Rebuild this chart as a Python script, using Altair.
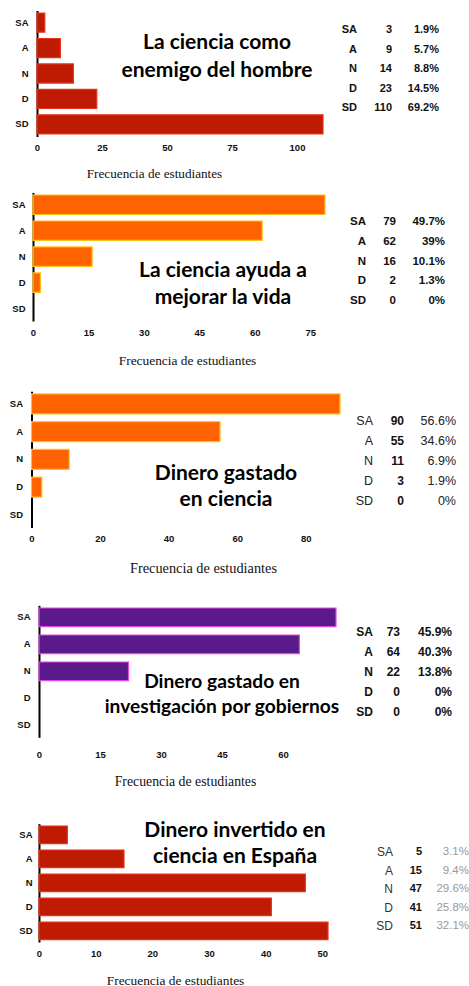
import altair as alt
import pandas as pd

# ---------------- data ----------------
cats = ["SA", "A", "N", "D", "SD"]

counts_1 = [3, 9, 14, 23, 110]
pct_1 = [1.9, 5.7, 8.8, 14.5, 69.2]
counts_2 = [79, 62, 16, 2, 0]
pct_2 = [49.7, 39, 10.1, 1.3, 0]
counts_3 = [90, 55, 11, 3, 0]
pct_3 = [56.6, 34.6, 6.9, 1.9, 0]
counts_4 = [73, 64, 22, 0, 0]
pct_4 = [45.9, 40.3, 13.8, 0, 0]
counts_5 = [5, 15, 47, 41, 51]
pct_5 = [3.1, 9.4, 29.6, 25.8, 32.1]

titles = [
    ["La ciencia como", "enemigo del hombre"],
    ["La ciencia ayuda a", "mejorar la vida"],
    ["Dinero gastado", "en ciencia"],
    ["Dinero gastado en", "investigación por gobiernos"],
    ["Dinero invertido en", "ciencia en España"],
]
tick_values = [
    [0, 25, 50, 75, 100],
    [0, 15, 30, 45, 60, 75],
    [0, 20, 40, 60, 80],
    [0, 15, 30, 45, 60],
    [0, 10, 20, 30, 40, 50],
]
x_title = "Frecuencia de estudiantes"

all_counts = [counts_1, counts_2, counts_3, counts_4, counts_5]
all_pcts = [pct_1, pct_2, pct_3, pct_4, pct_5]

# ---------------- layout / style ----------------
W, H = 469, 986
RED, RED_S = "#bf1a02", "#e8321a"
ORA, ORA_S = "#ff6200", "#ffc21a"
PUR, PUR_S = "#5a1a8a", "#e048e8"

styles = [
    dict(dmax=110, xr=(37, 323), yr=(10.5, 136.5), pi=0.25, fill=RED, stroke=RED_S,
         ylp=9, xlp=6, tx=154, ty=36.5, tfs=13.2,
         title_c=(217, 43, 71), title_fs=21,
         tab_x=(357, 392, 439), tab_y=(30, 108),
         tab=dict(lab=("bold", 11, "#111"), val=("bold", 11, "#111"), pct=("bold", 11, "#111"))),
    dict(dmax=79, xr=(33, 325), yr=(192.4, 321), pi=0.25, fill=ORA, stroke=ORA_S,
         ylp=8, xlp=6.5, tx=187, ty=39, tfs=13.4,
         title_c=(223, 271, 298), title_fs=21,
         tab_x=(366, 396, 445), tab_y=(222, 301),
         tab=dict(lab=("bold", 11.5, "#111"), val=("bold", 11.5, "#111"), pct=("bold", 11.5, "#111"))),
    dict(dmax=90, xr=(31.5, 340), yr=(391.2, 527.5), pi=0.28, fill=ORA, stroke=ORA_S,
         ylp=9, xlp=6, tx=203, ty=40.5, tfs=14.3,
         title_c=(226, 474, 500), title_fs=21,
         tab_x=(373, 404, 456), tab_y=(421, 501),
         tab=dict(lab=("normal", 12.5, "#222"), val=("bold", 12, "#111"), pct=("normal", 12.5, "#222"))),
    dict(dmax=73, xr=(39, 336), yr=(605.3, 737.3), pi=0.31, fill=PUR, stroke=PUR_S,
         ylp=9, xlp=12, tx=185, ty=44, tfs=13.8,
         title_c=(222, 682, 707), title_fs=19.2,
         tab_x=(373, 400, 452), tab_y=(632, 712),
         tab=dict(lab=("bold", 12, "#111"), val=("bold", 12, "#111"), pct=("bold", 12, "#111"))),
    dict(dmax=51, xr=(39, 328), yr=(823.6, 942), pi=0.27, fill=RED, stroke=RED_S,
         ylp=7, xlp=6.5, tx=175, ty=38, tfs=13.4,
         title_c=(235, 831, 857), title_fs=21,
         tab_x=(393, 422, 469), tab_y=(852, 926),
         tab=dict(lab=("normal", 12, "#333"), val=("bold", 11, "#111"), pct=("normal", 11.5, "#999"))),
]


def fmt_pct(p):
    return f"{p:g}%"


layers = []
for i in range(5):
    st = styles[i]
    df = pd.DataFrame({
        "cat": cats,
        "n": all_counts[i],
        "pct": [fmt_pct(p) for p in all_pcts[i]],
    })
    x0, x1 = st["xr"]
    y0, y1 = st["yr"]

    bars = alt.Chart(df).transform_filter("datum.n > 0").mark_bar(
        fill=st["fill"], stroke=st["stroke"], strokeWidth=1.2
    ).encode(
        x=alt.X("n:Q",
                scale=alt.Scale(domain=[0, st["dmax"]], range=[x0, x1], nice=False, zero=True),
                axis=alt.Axis(orient="bottom", offset=y1 - H, values=tick_values[i],
                              domain=False, ticks=False, grid=False, labelFlush=False,
                              labelFont="Liberation Sans", labelFontWeight="bold",
                              labelFontSize=9.5, labelColor="#111", labelPadding=st["xlp"],
                              title=x_title, titleFont="Liberation Serif",
                              titleFontWeight="normal", titleFontSize=st["tfs"],
                              titleColor="#111", titleX=st["tx"], titleY=st["ty"],
                              titleAlign="center", titleBaseline="middle")),
        y=alt.Y("cat:N", sort=cats,
                scale=alt.Scale(domain=cats, range=[y0, y1], paddingInner=st["pi"],
                                paddingOuter=0.1),
                axis=alt.Axis(orient="left", offset=-x0, title=None, ticks=False,
                              domainColor="#000", domainWidth=2, grid=False,
                              labelFont="Liberation Sans", labelFontWeight="bold",
                              labelFontSize=9.5, labelColor="#111", labelPadding=st["ylp"])),
    )
    layers.append(bars)

    # title (two lines)
    cx, ly0, ly1 = st["title_c"]
    tdf = pd.DataFrame({"line": titles[i], "k": ["l1", "l2"]})
    ttl = alt.Chart(tdf).mark_text(
        font="Lato", fontWeight="bold", fontSize=st["title_fs"], color="#000",
        align="center", baseline="middle"
    ).encode(
        x=alt.value(cx),
        y=alt.Y("k:N", scale=alt.Scale(type="point", domain=["l1", "l2"], range=[ly0, ly1], padding=0),
                axis=None),
        text="line:N",
    )
    layers.append(ttl)

    # side table
    tx_lab, tx_val, tx_pct = st["tab_x"]
    ty0, ty1 = st["tab_y"]
    for col, xx, key in (("cat", tx_lab, "lab"), ("n", tx_val, "val"), ("pct", tx_pct, "pct")):
        fw, fs, colr = st["tab"][key]
        t = alt.Chart(df).mark_text(
            font="Liberation Sans", fontWeight=fw, fontSize=fs, color=colr,
            align="right", baseline="middle"
        ).encode(
            x=alt.value(xx),
            y=alt.Y("cat:N", sort=cats,
                    scale=alt.Scale(type="point", domain=cats, range=[ty0, ty1], padding=0),
                    axis=None),
            text=alt.Text(f"{col}:N"),
        )
        layers.append(t)

chart = alt.layer(*layers).resolve_scale(
    x="independent", y="independent"
).properties(
    width=W, height=H, padding=0,
    autosize=alt.AutoSizeParams(type="none"),
    background="#ffffff",
).configure_view(stroke=None)

chart.save("out.html", embed_options={"renderer": "svg", "actions": False})
